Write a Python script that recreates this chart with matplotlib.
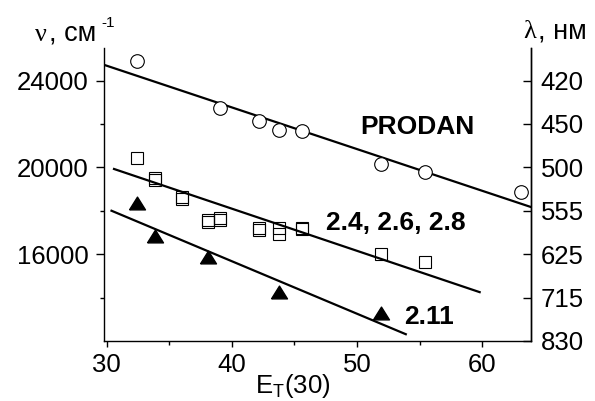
import matplotlib
matplotlib.use("Agg")
import matplotlib.pyplot as plt
import numpy as np

plt.rcParams['font.family'] = ['Liberation Sans', 'DejaVu Sans']
plt.rcParams['mathtext.fontset'] = 'custom'
plt.rcParams['mathtext.rm'] = 'Liberation Sans'
plt.rcParams['mathtext.it'] = 'Liberation Sans:italic'
plt.rcParams['mathtext.bf'] = 'Liberation Sans:bold'

# ---- data ----
prodan_x = [32.4, 39.1, 42.2, 43.8, 45.6, 51.9, 55.4, 63.1]
prodan_y = [24923, 22754, 22154, 21739, 21693, 20157, 19787, 18846]

sq24_x = [32.4, 33.9, 36.0, 38.1, 39.1, 42.2, 43.8, 45.6, 51.9, 55.4]
sq24_y = [20433, 19510, 18634, 17480, 17665, 17204, 17204, 17227, 16018, 15635]
sq26_x = [33.9, 36.0, 38.1, 39.1, 42.2, 43.8, 45.6]
sq26_y = [19432, 18555, 17554, 17586, 17125, 16908, 17171]

tri_x = [32.4, 33.9, 38.1, 43.8, 51.9]
tri_y = [18357, 16848, 15866, 14251, 13309]

# fitted lines (end points)
prodan_line_x = [29.9, 63.9]
prodan_line_y = [24706, 18172]
sq_line_x = [30.6, 59.8]
sq_line_y = [19926, 14251]
tri_line_x = [30.4, 53.9]
tri_line_y = [18002, 12313]

left_ticks = [16000, 20000, 24000]
left_minor = [14000, 18000, 22000]
right_ticks = [24000, 22000, 20000, 18000, 16000, 14000, 12000]
right_labels = ['420', '450', '500', '555', '625', '715', '830']
x_ticks = [30, 40, 50, 60]
x_minor = [35, 45, 55]

W, H = 595, 401
fig = plt.figure(figsize=(W / 100, H / 100), dpi=100)
ax = fig.add_axes([104 / W, 1 - 341 / H, (531 - 104) / W, (341 - 48) / H])
ax.set_xlim(29.8, 63.9)
ax.set_ylim(12000, 25500)

lw = 1.6
ax.plot(prodan_line_x, prodan_line_y, color='black', lw=lw)
ax.plot(sq_line_x, sq_line_y, color='black', lw=lw)
ax.plot(tri_line_x, tri_line_y, color='black', lw=lw)

ax.plot(prodan_x, prodan_y, 'o', ms=9.8, mfc='white', mec='black', mew=0.8, ls='none')
ax.plot(sq24_x, sq24_y, 's', ms=8.4, mfc='none', mec='black', mew=0.8, ls='none')
ax.plot(sq26_x, sq26_y, 's', ms=8.4, mfc='none', mec='black', mew=0.8, ls='none')
tri_marker = [(-1, -0.8), (1, -0.8), (0, 0.8), (-1, -0.8)]
ax.plot(tri_x, tri_y, marker=tri_marker, ms=11.5, mfc='black', mec='black', ls='none')

for s in ['left', 'right', 'bottom']:
    ax.spines[s].set_linewidth(1.0)
ax.spines['top'].set_visible(False)

ax.set_yticks(left_ticks)
ax.set_yticks(left_minor, minor=True)
ax.set_xticks(x_ticks)
ax.set_xticks(x_minor, minor=True)
ax.tick_params(axis='y', which='major', direction='out', length=6, width=1.0, labelsize=18.5, pad=5)
ax.tick_params(axis='y', which='minor', direction='out', length=3, width=1.0)
ax.tick_params(axis='x', which='major', direction='out', length=4, width=1.0, labelsize=18.5, pad=5)
ax.tick_params(axis='x', which='minor', direction='out', length=3, width=1.0)

ax2 = ax.twinx()
ax2.set_ylim(ax.get_ylim())
ax2.set_yticks(right_ticks)
ax2.set_yticklabels(right_labels)
ax2.tick_params(axis='y', direction='in', length=6, width=1.0, labelsize=18.5, pad=7)
ax2.spines['top'].set_visible(False)
ax2.spines['right'].set_linewidth(1.0)
ax2.spines['left'].set_visible(False)
ax2.spines['bottom'].set_visible(False)

# series labels
ax.text(417 / W, 1 - 127.5 / H, 'PRODAN', transform=fig.transFigure, fontsize=19,
        fontweight='bold', ha='center', va='center')
ax.text(396 / W, 1 - 222.5 / H, '2.4, 2.6, 2.8', transform=fig.transFigure, fontsize=19,
        fontweight='bold', ha='center', va='center')
ax.text(429 / W, 1 - 317 / H, '2.11', transform=fig.transFigure, fontsize=19,
        fontweight='bold', ha='center', va='center')

# axis titles
fig.text(35 / W, 1 - 40.7 / H, 'ν', family=['Liberation Serif'], fontsize=19, va='baseline', ha='left')
fig.text(49 / W, 1 - 40.7 / H, ', см', fontsize=19.5, va='baseline', ha='left')
fig.text(101 / W, 1 - 27 / H, '-1', fontsize=11, va='baseline', ha='left')

fig.text(523 / W, 1 - 38.5 / H, 'λ', family=['Liberation Serif'], fontsize=19, va='baseline', ha='left')
fig.text(538 / W, 1 - 38.5 / H, ', нм', fontsize=19.5, va='baseline', ha='left')

fig.text(255 / W, 1 - 392.7 / H, r'E$_\mathregular{T}$(30)', fontsize=18.5, va='baseline', ha='left')

fig.savefig('out.png', dpi=100)
